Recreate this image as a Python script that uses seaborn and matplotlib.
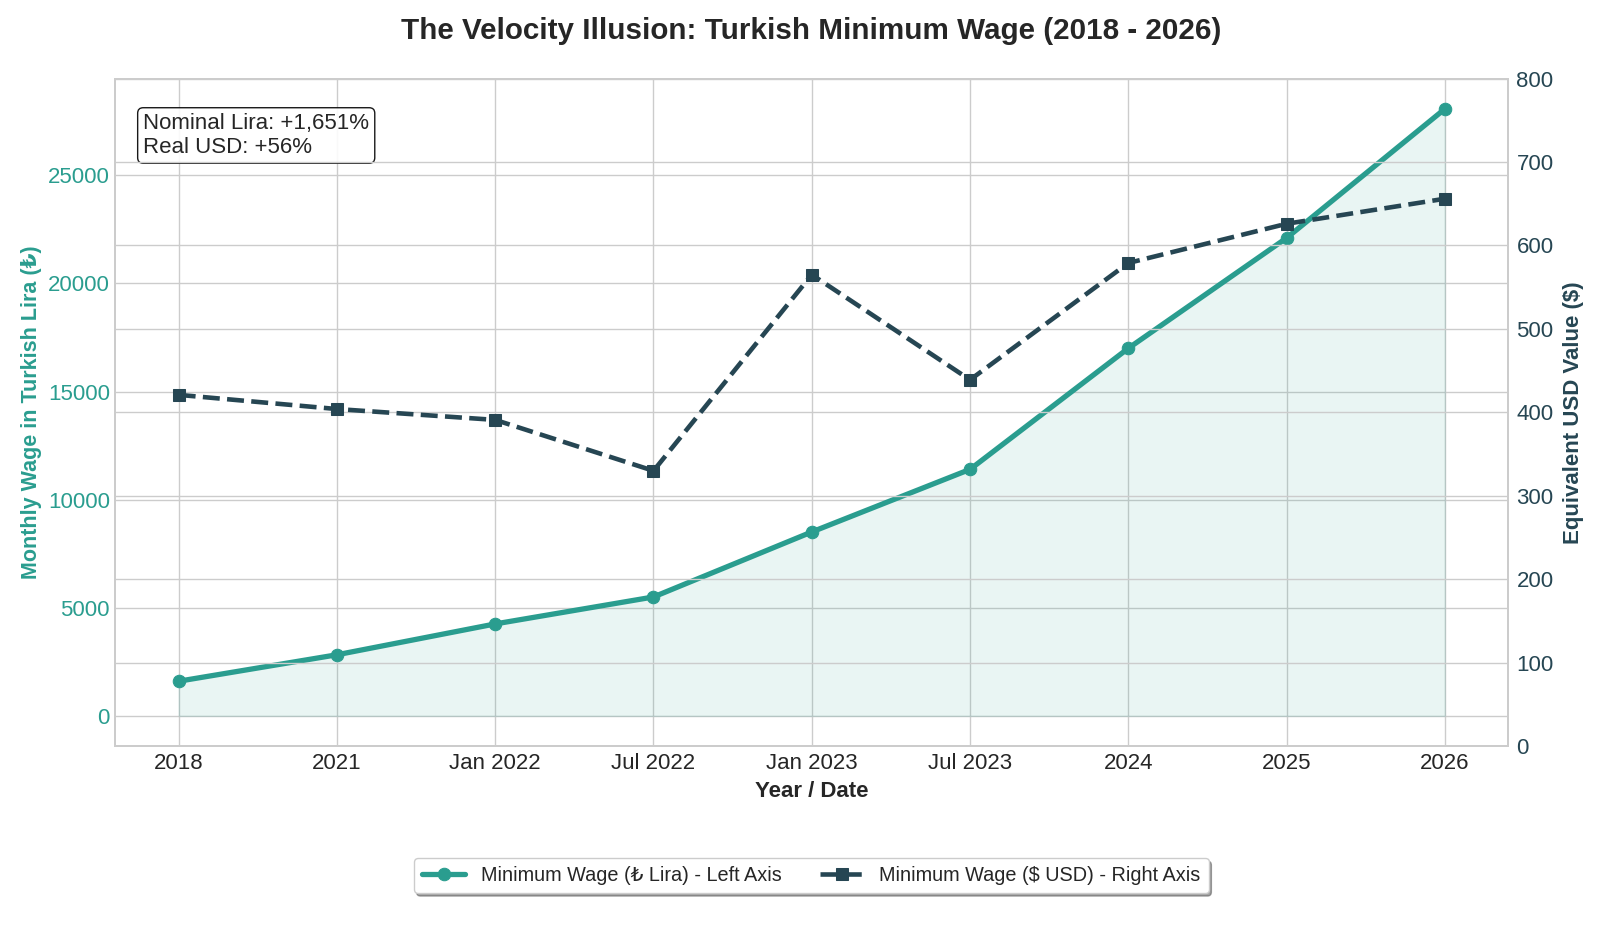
import numpy as np
import pandas as pd
import matplotlib
matplotlib.use("Agg")
import matplotlib.pyplot as plt
import seaborn as sns

# chart data
dates = ["2018", "2021", "Jan 2022", "Jul 2022", "Jan 2023", "Jul 2023", "2024", "2025", "2026"]
wage_lira = [1603, 2826, 4253, 5500, 8507, 11402, 17002, 22104, 28075]
wage_usd = [421, 404, 391, 330, 565, 439, 579, 626, 656]

LIRA_COLOR = "#2a9d8f"
USD_COLOR = "#264653"

sns.set_theme(style="whitegrid")
plt.rcParams["font.family"] = ["Liberation Sans", "DejaVu Sans"]
plt.rcParams["axes.edgecolor"] = "#cccccc"
plt.rcParams["grid.color"] = "#cccccc"

df = pd.DataFrame({"pos": np.arange(len(dates)), "date": dates,
                   "lira": wage_lira, "usd": wage_usd})

fig, ax1 = plt.subplots(figsize=(16, 9.33), dpi=100)
fig.subplots_adjust(left=0.0721, right=0.9426, top=0.9158, bottom=0.2002)

# left axis: nominal lira
sns.lineplot(data=df, x="pos", y="lira", ax=ax1, color=LIRA_COLOR, linewidth=3.8,
             marker="o", markersize=9, markeredgecolor=LIRA_COLOR,
             label="Minimum Wage (₺ Lira) - Left Axis", legend=False)
ax1.fill_between(df["pos"], df["lira"], color=LIRA_COLOR, alpha=0.1)
ax1.set_ylabel("Monthly Wage in Turkish Lira (₺)", color=LIRA_COLOR,
               fontsize=15.5, fontweight="bold", labelpad=4)
ax1.set_xlabel("Year / Date", fontsize=16, fontweight="bold", labelpad=5)
ax1.tick_params(axis="y", labelcolor=LIRA_COLOR, labelsize=16, length=0, pad=4)
ax1.tick_params(axis="x", labelsize=16, length=0, pad=5)
ax1.set_xticks(df["pos"])
ax1.set_xticklabels(dates)
ax1.set_xlim(-0.4, len(dates) - 0.6)

# right axis: value in USD
ax2 = ax1.twinx()
sns.lineplot(data=df, x="pos", y="usd", ax=ax2, color=USD_COLOR, linewidth=3.3,
             linestyle="--", marker="s", markersize=9, markeredgecolor=USD_COLOR,
             label="Minimum Wage ($ USD) - Right Axis", legend=False)
ax2.set_ylim(0, 800)
ax2.set_ylabel("Equivalent USD Value ($)", color=USD_COLOR, fontsize=16,
               fontweight="bold", labelpad=7)
ax2.tick_params(axis="y", labelcolor=USD_COLOR, labelsize=16, length=0, pad=6)
for sp in ax2.spines.values():
    sp.set_edgecolor("#cccccc")

nominal = (wage_lira[-1] / wage_lira[0] - 1) * 100
real = (wage_usd[-1] / wage_usd[0] - 1) * 100
ax1.text(0.02, 0.948, f"Nominal Lira: +{nominal:,.0f}%\nReal USD: +{real:.0f}%",
         transform=ax1.transAxes, fontsize=16, va="top", ha="left", zorder=10,
         linespacing=1.15,
         bbox=dict(boxstyle="round,pad=0.25", fc="white", ec="black", alpha=0.9))

fig.suptitle("The Velocity Illusion: Turkish Minimum Wage (2018 - 2026)",
             fontsize=21.3, fontweight="bold", x=0.507, y=0.967, va="center")

h1, l1 = ax1.get_legend_handles_labels()
h2, l2 = ax2.get_legend_handles_labels()
fig.legend(h1 + h2, l1 + l2, loc="center", bbox_to_anchor=(0.507, 0.0613), ncol=2,
           fontsize=14.3, frameon=True, shadow=True, fancybox=True,
           edgecolor="#cccccc", handlelength=2.2, columnspacing=1.9)

fig.savefig("out.png", dpi=100)
